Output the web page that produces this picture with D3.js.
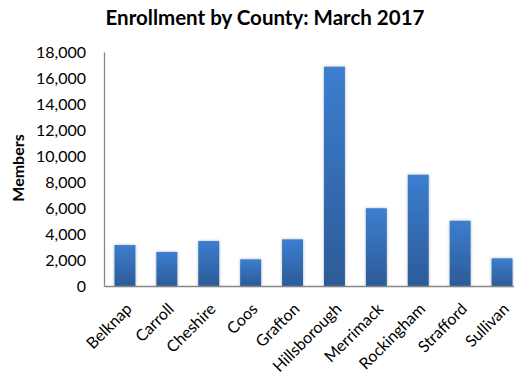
<!DOCTYPE html>
<html>
<head>
<meta charset="utf-8">
<script src="https://cdn.jsdelivr.net/npm/d3@7"></script>
<style>
  html, body { margin: 0; padding: 0; background: #fff; }
  svg { display: block; }
  text { font-family: Lato, "Open Sans", sans-serif; fill: #000; }
</style>
</head>
<body>
<svg id="chart" width="514" height="380"></svg>
<script>
// Enrollment by county, March 2017
const counties = ["Belknap", "Carroll", "Cheshire", "Coos", "Grafton",
  "Hillsborough", "Merrimack", "Rockingham", "Strafford", "Sullivan"];
const members = [3150, 2620, 3460, 2050, 3590, 16870, 5980, 8560, 5020, 2130];
const yTicks = [0, 2000, 4000, 6000, 8000, 10000, 12000, 14000, 16000, 18000];

const svg = d3.select("#chart");
const plot = { left: 104, right: 523, top: 52, bottom: 286 };

const x = d3.scaleBand().domain(counties).range([plot.left, plot.right]).paddingInner(0.5).paddingOuter(0.25);
const y = d3.scaleLinear().domain([0, 18000]).range([plot.bottom, plot.top]);

const defs = svg.append("defs");
const grad = defs.append("linearGradient").attr("id", "barFill")
  .attr("x1", 0).attr("y1", 0).attr("x2", 0).attr("y2", 1);
grad.append("stop").attr("offset", "0%").attr("stop-color", "#3c7ecf");
grad.append("stop").attr("offset", "100%").attr("stop-color", "#2c5b98");

const shadow = defs.append("filter").attr("id", "barShadow")
  .attr("x", "-40%").attr("y", "-10%").attr("width", "180%").attr("height", "120%");
shadow.append("feDropShadow").attr("dx", 0).attr("dy", 0)
  .attr("stdDeviation", 1.4).attr("flood-color", "#000").attr("flood-opacity", 0.3);

// Title
svg.append("text")
  .attr("x", 265).attr("y", 25)
  .attr("text-anchor", "middle")
  .style("font-weight", "bold").style("font-size", "20.5px")
  .text("Enrollment by County: March 2017");

// Y axis title
svg.append("text")
  .attr("transform", "translate(24,168) rotate(-90)")
  .attr("text-anchor", "middle")
  .style("font-weight", "bold").style("font-size", "16px")
  .text("Members");

// Bars
svg.append("g").selectAll("rect")
  .data(counties.map((c, i) => ({ county: c, value: members[i] })))
  .join("rect")
  .attr("x", d => x(d.county))
  .attr("width", x.bandwidth())
  .attr("y", d => y(d.value))
  .attr("height", d => y(0) - y(d.value))
  .attr("fill", "url(#barFill)")
  .attr("filter", "url(#barShadow)");

// Y axis
const yAxis = svg.append("g")
  .attr("transform", `translate(${plot.left},0)`)
  .call(d3.axisLeft(y).tickValues(yTicks).tickSize(0).tickPadding(18)
    .tickFormat(d3.format(",")));
yAxis.select(".domain").attr("stroke", "#868686").attr("stroke-width", 1.3);
yAxis.selectAll("text").style("font-size", "16px").style("font-family", "Lato, sans-serif")
  .attr("fill", "#000");

// X axis
const xAxis = svg.append("g")
  .attr("transform", `translate(0,${plot.bottom})`)
  .call(d3.axisBottom(x).tickSize(0).tickPadding(0));
xAxis.select(".domain").attr("stroke", "#868686").attr("stroke-width", 1.3);
xAxis.selectAll("text")
  .style("font-size", "16px").style("font-family", "Lato, sans-serif")
  .attr("fill", "#000")
  .attr("text-anchor", "end")
  .attr("dy", null)
  .attr("transform", "translate(8,24) rotate(-45)");
</script>
</body>
</html>
